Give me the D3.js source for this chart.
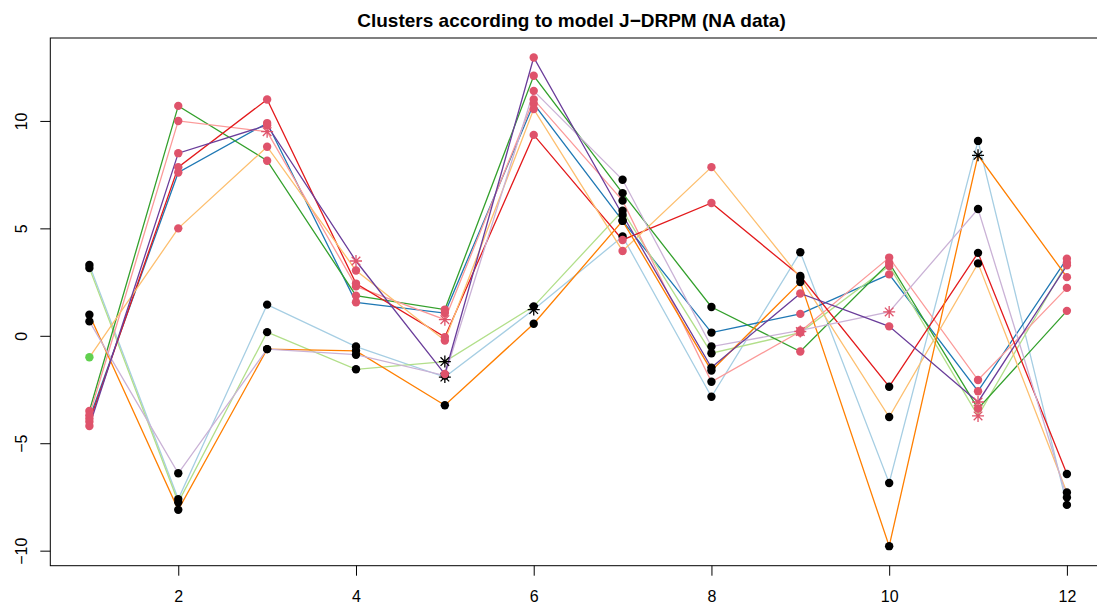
<!DOCTYPE html>
<html>
<head>
<meta charset="utf-8">
<script src="https://cdn.jsdelivr.net/npm/d3@7"></script>
<style>
  body { margin: 0; background: #fff; }
  svg { display: block; }
  text { font-family: "Liberation Sans", Arial, Helvetica, sans-serif; }
</style>
</head>
<body>
<svg id="chart" width="1097" height="604"></svg>
<script>
// Time points and axis ticks
const times  = [1, 2, 3, 4, 5, 6, 7, 8, 9, 10, 11, 12];
const xTicks = [2, 4, 6, 8, 10, 12];
const yTicks = [-10, -5, 0, 5, 10];
const title  = "Clusters according to model J\u2212DRPM (NA data)";

// One line colour per unit (RColorBrewer "Paired")
const unitColors = ["#A6CEE3", "#1F78B4", "#B2DF8A", "#33A02C", "#FB9A99",
                    "#E31A1C", "#FDBF6F", "#FF7F00", "#CAB2D6", "#6A3D9A"];
// Cluster colours: 1 = black, 2 = red, 3 = green
const clusterColors = ["#000000", "#DF536B", "#61D04F"];

// Observed / imputed values per unit
const unit1  = [3.30, -7.60, 1.45, -0.50, -1.92, 1.22, 4.62, -2.84, 3.89, -6.85, 9.07, -7.87];
const unit2  = [-3.85, 7.60, 9.90, 1.56, 1.06, 10.80, 5.35, 0.15, 1.02, 2.86, -2.58, 3.59];
const unit3  = [3.15, -7.75, 0.17, -1.56, -1.20, 1.37, 5.82, -0.81, 0.15, 3.25, -3.73, 3.40];
const unit4  = [-3.50, 10.70, 8.15, 1.87, 1.22, 12.10, 6.64, 1.34, -0.73, 3.40, -3.39, 1.16];
const unit5  = [-3.70, 10.00, 9.50, 2.30, 0.75, 11.00, 6.29, -2.14, 0.20, 3.64, -2.06, 2.23];
const unit6  = [-4.00, 7.85, 11.00, 2.43, -0.06, 9.35, 4.46, 6.18, 2.78, -2.37, 3.86, -6.43];
const unit7  = [-1.00, 5.00, 8.80, 3.04, -0.22, 10.55, 3.95, 7.85, 2.70, -3.78, 3.37, -7.29];
const unit8  = [0.98, -8.10, -0.62, -0.70, -3.23, 0.56, 5.35, -1.62, 2.50, -9.79, 8.40, 2.73];
const unit9  = [0.67, -6.40, -0.62, -0.88, -1.85, 11.40, 7.26, -0.50, 0.25, 1.11, 5.90, -7.52];
const unit10 = [-4.20, 8.50, 9.80, 3.48, -1.78, 12.95, 5.62, -1.48, 1.97, 0.44, -3.08, 3.28];

// Cluster label of each unit at each time
const clust1  = [1,1,1,1,1,1,1,1,1,1,1,1];
const clust2  = [2,2,2,2,2,2,1,1,2,2,2,2];
const clust3  = [1,1,1,1,1,1,1,1,2,2,2,2];
const clust4  = [2,2,2,2,2,2,1,1,2,2,2,2];
const clust5  = [2,2,2,2,2,2,1,1,2,2,2,2];
const clust6  = [2,2,2,2,2,2,2,2,1,1,1,1];
const clust7  = [3,2,2,2,2,2,2,2,1,1,1,1];
const clust8  = [1,1,1,1,1,1,1,1,1,1,1,2];
const clust9  = [1,1,1,1,1,2,1,1,2,2,1,1];
const clust10 = [2,2,2,2,2,2,1,1,2,2,2,2];

// 1 where the value was missing and has been imputed
const na1  = [0,0,0,0,1,1,0,0,0,0,0,0];
const na2  = [0,0,0,0,0,0,0,0,0,0,0,0];
const na3  = [0,0,0,0,1,0,0,0,0,0,1,0];
const na4  = [0,0,0,0,0,0,0,0,0,0,0,0];
const na5  = [0,0,1,0,1,0,0,0,1,0,0,0];
const na6  = [0,0,0,0,0,0,0,0,0,0,0,0];
const na7  = [0,0,0,0,0,0,0,0,0,0,0,0];
const na8  = [0,0,0,0,0,0,0,0,0,0,1,0];
const na9  = [0,0,0,0,0,0,0,0,0,1,0,0];
const na10 = [0,0,0,1,0,0,0,0,0,0,1,0];

const values   = [unit1, unit2, unit3, unit4, unit5, unit6, unit7, unit8, unit9, unit10];
const clusters = [clust1, clust2, clust3, clust4, clust5, clust6, clust7, clust8, clust9, clust10];
const imputed  = [na1, na2, na3, na4, na5, na6, na7, na8, na9, na10];

// ---- layout ----
const W = 1097, H = 604;
const plot = { left: 50.3, top: 38, bottom: 565.7, right: 1106 };

const svg = d3.select("#chart");
svg.append("rect").attr("width", W).attr("height", H).attr("fill", "#fff");

// R-style axis ranges: data extent padded by 4% on each side
function padded(ext) {
  const d = (ext[1] - ext[0]) * 0.04;
  return [ext[0] - d, ext[1] + d];
}
const x = d3.scaleLinear().domain(padded(d3.extent(times))).range([plot.left, plot.right]);
const y = d3.scaleLinear().domain(padded(d3.extent(values.flat()))).range([plot.bottom, plot.top]);

// series lines
const line = d3.line().x((d, i) => x(times[i])).y(d => y(d));
const linesG = svg.append("g");
values.forEach((vals, u) => {
  linesG.append("path")
    .attr("d", line(vals))
    .attr("fill", "none")
    .attr("stroke", unitColors[u])
    .attr("stroke-width", 1.3);
});

// points: filled circles for observed values, asterisks for imputed ones
const ptsG = svg.append("g");
const starArm = 6, starDiag = 4.3;
values.forEach((vals, u) => {
  vals.forEach((v, t) => {
    const cx = x(times[t]), cy = y(v);
    const col = clusterColors[clusters[u][t] - 1];
    if (imputed[u][t]) {
      const p = d3.path();
      p.moveTo(cx - starArm, cy); p.lineTo(cx + starArm, cy);
      p.moveTo(cx, cy - starArm); p.lineTo(cx, cy + starArm);
      p.moveTo(cx - starDiag, cy - starDiag); p.lineTo(cx + starDiag, cy + starDiag);
      p.moveTo(cx - starDiag, cy + starDiag); p.lineTo(cx + starDiag, cy - starDiag);
      ptsG.append("path").attr("d", p.toString())
        .attr("stroke", col).attr("stroke-width", 1.3).attr("fill", "none");
    } else {
      ptsG.append("circle").attr("cx", cx).attr("cy", cy).attr("r", 4.2).attr("fill", col);
    }
  });
});

// plot frame
svg.append("rect")
  .attr("x", plot.left).attr("y", plot.top)
  .attr("width", plot.right - plot.left).attr("height", plot.bottom - plot.top)
  .attr("fill", "none").attr("stroke", "#000").attr("stroke-width", 1);

const fmt = d => (d < 0 ? "\u2212" + Math.abs(d) : String(d));

// x axis
const xAxis = svg.append("g")
  .attr("transform", `translate(0,${plot.bottom})`)
  .call(d3.axisBottom(x).tickValues(xTicks).tickFormat(fmt).tickSize(10).tickSizeOuter(0));
xAxis.select(".domain").remove();
xAxis.selectAll("line").attr("stroke", "#000");
xAxis.selectAll("text")
  .attr("y", 36).attr("dy", 0)
  .attr("font-size", 16).attr("font-family", "Liberation Sans, Arial, sans-serif")
  .attr("fill", "#000");

// y axis with labels parallel to the axis
const yAxis = svg.append("g")
  .attr("transform", `translate(${plot.left},0)`)
  .call(d3.axisLeft(y).tickValues(yTicks).tickFormat(fmt).tickSize(10).tickSizeOuter(0));
yAxis.select(".domain").remove();
yAxis.selectAll("line").attr("stroke", "#000");
yAxis.selectAll("text")
  .attr("transform", "rotate(-90)")
  .attr("x", 0).attr("y", -23.3).attr("dy", 0)
  .attr("text-anchor", "middle")
  .attr("font-size", 16).attr("font-family", "Liberation Sans, Arial, sans-serif")
  .attr("fill", "#000");

// title
svg.append("text")
  .attr("x", 571.5).attr("y", 27)
  .attr("text-anchor", "middle")
  .attr("font-size", 19).attr("font-weight", "bold")
  .attr("fill", "#000")
  .text(title);
</script>
</body>
</html>
